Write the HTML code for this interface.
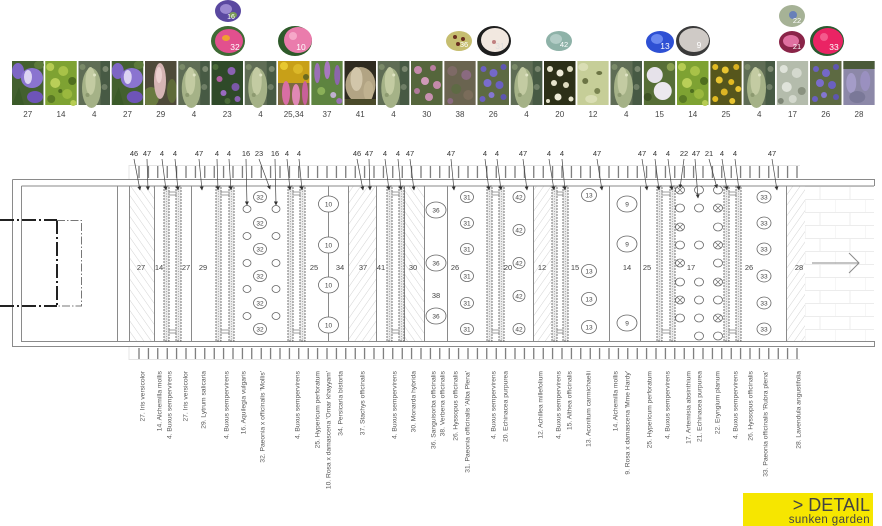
<!DOCTYPE html>
<html><head><meta charset="utf-8"><style>
html,body{margin:0;padding:0;background:#fff;width:882px;height:526px;overflow:hidden}
svg{display:block}
</style></head><body>
<svg width="882" height="526" viewBox="0 0 882 526" xmlns="http://www.w3.org/2000/svg" font-family="'Liberation Sans', Arial, sans-serif">
<defs>
<clipPath id="pc"><rect x="0" y="0" width="31.5" height="44"/></clipPath>
<pattern id="tk" patternUnits="userSpaceOnUse" x="134.3" y="0" width="9.4" height="600"><line x1="4.7" y1="0" x2="4.7" y2="600" stroke="#555" stroke-width="1"/></pattern>
<pattern id="ha" patternUnits="userSpaceOnUse" width="6" height="6" patternTransform="rotate(35)"><line x1="0" y1="0" x2="0" y2="6" stroke="#c8c8c8" stroke-width="0.8"/></pattern>
<pattern id="hb" patternUnits="userSpaceOnUse" width="6" height="6" patternTransform="rotate(-35)"><line x1="0" y1="0" x2="0" y2="6" stroke="#c8c8c8" stroke-width="0.8"/></pattern>
<pattern id="br" patternUnits="userSpaceOnUse" x="805" y="186" width="30" height="26"><path d="M0 0.5 H30 M0 13.5 H30 M15 0 V13 M0 13 V26" stroke="#ececec" stroke-width="1" fill="none"/></pattern>
<marker id="ar" markerWidth="4" markerHeight="4" refX="3.5" refY="2" orient="auto" markerUnits="userSpaceOnUse"><path d="M0,0 L4,2 L0,4 z" fill="#333"/></marker>
<g id="bx">
<rect width="31.5" height="44" fill="#5f6d55"/>
<rect x="22" width="9.5" height="44" fill="#475a44"/>
<circle cx="27" cy="8" r="3" fill="#7b8870"/><circle cx="26" cy="26" r="3" fill="#6f7e66"/><circle cx="4" cy="6" r="3" fill="#7a8a68"/>
<ellipse cx="13" cy="27" rx="9.5" ry="20" fill="#a5b287"/>
<ellipse cx="12" cy="20" rx="5" ry="14" fill="#c3cba2"/>
<circle cx="9" cy="34" r="2" fill="#8d9a70"/><circle cx="16" cy="14" r="1.5" fill="#dfe4c4"/>
</g>
<g id="iris">
<rect width="31.5" height="44" fill="#43602f"/>
<ellipse cx="6" cy="10" rx="6" ry="8" fill="#7d66c4"/>
<ellipse cx="20" cy="17" rx="11" ry="10" fill="#8a74d0"/>
<ellipse cx="16" cy="16" rx="4" ry="7" fill="#dcd4f2"/>
<ellipse cx="23" cy="36" rx="8" ry="6" fill="#6e54b8"/>
<ellipse cx="27" cy="4" rx="5" ry="4" fill="#5c7a3a"/>
<path d="M0 44 L7 26 L12 44z" fill="#3a5a28"/>
</g>
<g id="alc">
<rect width="31.5" height="44" fill="#7ea232"/>
<circle cx="5" cy="6" r="4" fill="#b6cc52"/><circle cx="18" cy="10" r="5" fill="#a8c248"/><circle cx="27" cy="20" r="4" fill="#4f6e1e"/>
<circle cx="10" cy="22" r="5" fill="#b9cf58"/><circle cx="22" cy="33" r="5" fill="#9ab83e"/><circle cx="6" cy="38" r="4" fill="#5a7a24"/>
<circle cx="15" cy="30" r="2" fill="#4f6e1e"/><circle cx="28" cy="42" r="3" fill="#b6cc52"/>
</g>
<g id="hys">
<rect width="31.5" height="44" fill="#5d6a42"/>
<circle cx="6" cy="8" r="3" fill="#6a60c0"/><circle cx="16" cy="12" r="4" fill="#7468c8"/><circle cx="26" cy="6" r="3" fill="#5e56b0"/>
<circle cx="10" cy="22" r="4" fill="#7a6ccc"/><circle cx="22" cy="24" r="4" fill="#6a60c0"/><circle cx="14" cy="34" r="3" fill="#8476d2"/>
<circle cx="26" cy="36" r="3" fill="#5e56b0"/><circle cx="5" cy="38" r="3" fill="#6a60c0"/>
</g>
</defs>

<!-- ===== PHOTOS ===== -->
<g>
<use href="#iris" x="12" y="61"/>
<use href="#alc" x="45.25" y="61"/>
<use href="#bx" x="78.5" y="61"/>
<use href="#iris" x="111.75" y="61"/>
<g transform="translate(145,61)" clip-path="url(#pc)"><rect width="31.5" height="44" fill="#4e4a3a"/><ellipse cx="6" cy="36" rx="8" ry="10" fill="#6a7a40"/><ellipse cx="15" cy="20" rx="6" ry="18" fill="#d6b4b4"/><ellipse cx="14" cy="14" rx="3" ry="8" fill="#ecd0d0"/><ellipse cx="27" cy="30" rx="5" ry="12" fill="#5e6a38"/></g>
<use href="#bx" x="178.25" y="61"/>
<g transform="translate(211.5,61)" clip-path="url(#pc)"><rect width="31.5" height="44" fill="#2f4a29"/><circle cx="20" cy="10" r="4" fill="#8a62b2"/><circle cx="8" cy="18" r="3" fill="#b060a0"/><circle cx="24" cy="26" r="4" fill="#7a58a8"/><circle cx="12" cy="32" r="3" fill="#9a6ac0"/><circle cx="26" cy="38" r="3" fill="#8a62b2"/><circle cx="4" cy="6" r="3" fill="#4a6a38"/><circle cx="16" cy="40" r="3" fill="#4a6a38"/></g>
<use href="#bx" x="244.75" y="61"/>
<g transform="translate(278,61)" clip-path="url(#pc)"><rect width="31.5" height="44" fill="#c8a018"/><circle cx="6" cy="5" r="4" fill="#e8c830"/><circle cx="20" cy="8" r="5" fill="#dcb828"/><circle cx="28" cy="16" r="3" fill="#6a6a20"/><rect x="0" y="22" width="31.5" height="22" fill="#7a6a40"/><ellipse cx="8" cy="32" rx="4" ry="12" fill="#d86ea4"/><ellipse cx="18" cy="34" rx="4" ry="11" fill="#e088b4"/><ellipse cx="27" cy="32" rx="3" ry="12" fill="#c8609a"/></g>
<g transform="translate(311.25,61)" clip-path="url(#pc)"><rect width="31.5" height="44" fill="#5e8440"/><ellipse cx="6" cy="12" rx="3" ry="10" fill="#9a70b6"/><ellipse cx="16" cy="9" rx="3" ry="9" fill="#a878c0"/><ellipse cx="26" cy="14" rx="3" ry="10" fill="#8c66ac"/><circle cx="10" cy="30" r="4" fill="#8ab058"/><circle cx="22" cy="34" r="3" fill="#c0b0d0"/><circle cx="28" cy="40" r="3" fill="#9a70b6"/></g>
<g transform="translate(344.5,61)" clip-path="url(#pc)"><rect width="31.5" height="44" fill="#2e2b20"/><ellipse cx="16" cy="24" rx="15" ry="18" fill="#b2a484"/><ellipse cx="12" cy="18" rx="6" ry="12" fill="#d2c6aa"/><ellipse cx="24" cy="30" rx="5" ry="10" fill="#c0b290"/><rect x="0" y="38" width="31.5" height="6" fill="#4a4a2a"/></g>
<use href="#bx" x="377.75" y="61"/>
<g transform="translate(411,61)" clip-path="url(#pc)"><rect width="31.5" height="44" fill="#55663c"/><circle cx="7" cy="9" r="4" fill="#c48aaa"/><circle cx="22" cy="7" r="3" fill="#b87ea0"/><circle cx="14" cy="20" r="4" fill="#d09ab8"/><circle cx="26" cy="24" r="4" fill="#c48aaa"/><circle cx="6" cy="30" r="3" fill="#b07a9a"/><circle cx="18" cy="36" r="4" fill="#c890b0"/></g>
<g transform="translate(444.25,61)" clip-path="url(#pc)"><rect width="31.5" height="44" fill="#6a6450"/><circle cx="8" cy="10" r="5" fill="#7e6a66"/><circle cx="22" cy="14" r="5" fill="#8a6a80"/><circle cx="12" cy="28" r="5" fill="#5e6a44"/><circle cx="24" cy="34" r="5" fill="#7a6c5a"/><circle cx="6" cy="40" r="3" fill="#8a6a80"/></g>
<use href="#hys" x="477.5" y="61"/>
<use href="#bx" x="510.75" y="61"/>
<g transform="translate(544,61)" clip-path="url(#pc)"><rect width="31.5" height="44" fill="#2c3018"/><circle cx="6" cy="8" r="3" fill="#e6e4cc"/><circle cx="16" cy="12" r="3.5" fill="#eeecd8"/><circle cx="26" cy="8" r="3" fill="#dedcc0"/><circle cx="10" cy="22" r="3" fill="#e6e4cc"/><circle cx="22" cy="24" r="3" fill="#dedcc0"/><circle cx="14" cy="36" r="3.5" fill="#eeecd8"/><circle cx="27" cy="38" r="2.5" fill="#e6e4cc"/><circle cx="4" cy="40" r="2" fill="#e6e4cc"/></g>
<g transform="translate(577.25,61)" clip-path="url(#pc)"><rect width="31.5" height="44" fill="#c6ce98"/><ellipse cx="8" cy="20" rx="3" ry="3" fill="#6c7444"/><ellipse cx="22" cy="12" rx="3" ry="2" fill="#6c7444"/><ellipse cx="20" cy="30" rx="3" ry="3" fill="#7a8450"/><ellipse cx="6" cy="6" rx="5" ry="4" fill="#dadeb4"/><ellipse cx="14" cy="38" rx="6" ry="4" fill="#dadeb4"/></g>
<use href="#bx" x="610.5" y="61"/>
<g transform="translate(643.75,61)" clip-path="url(#pc)"><rect width="31.5" height="44" fill="#566e36"/><circle cx="11" cy="14" r="8" fill="#e6e2ea"/><circle cx="19" cy="30" r="9" fill="#ece8ee"/><circle cx="27" cy="6" r="4" fill="#8aa050"/><circle cx="4" cy="36" r="4" fill="#3e5424"/></g>
<use href="#alc" x="677" y="61"/>
<g transform="translate(710.25,61)" clip-path="url(#pc)"><rect width="31.5" height="44" fill="#56561c"/><circle cx="5" cy="6" r="3" fill="#e2ba22"/><circle cx="15" cy="9" r="3.5" fill="#e8c430"/><circle cx="26" cy="6" r="3" fill="#d8b020"/><circle cx="9" cy="19" r="3.5" fill="#e8c430"/><circle cx="21" cy="21" r="3" fill="#e2ba22"/><circle cx="28" cy="28" r="3" fill="#e8c430"/><circle cx="14" cy="31" r="3.5" fill="#dcb424"/><circle cx="5" cy="38" r="3" fill="#e2ba22"/><circle cx="22" cy="40" r="3" fill="#e8c430"/></g>
<use href="#bx" x="743.5" y="61"/>
<g transform="translate(776.75,61)" clip-path="url(#pc)"><rect width="31.5" height="44" fill="#b4bcac"/><circle cx="7" cy="8" r="4" fill="#dfe3da"/><circle cx="20" cy="12" r="5" fill="#d4d9ce"/><circle cx="10" cy="26" r="5" fill="#dfe3da"/><circle cx="25" cy="30" r="4" fill="#8a9280"/><circle cx="16" cy="38" r="4" fill="#d4d9ce"/><circle cx="4" cy="40" r="3" fill="#7e8676"/></g>
<use href="#hys" x="810" y="61"/>
<g transform="translate(843.25,61)" clip-path="url(#pc)"><rect width="31.5" height="44" fill="#8c88a8"/><rect width="31.5" height="8" fill="#4a5a38"/><ellipse cx="8" cy="22" rx="5" ry="10" fill="#a49cc8"/><ellipse cx="22" cy="20" rx="5" ry="10" fill="#9a90c0"/><ellipse cx="14" cy="36" rx="8" ry="6" fill="#7a7898"/></g>
</g>

<!-- photo numbers -->
<g font-size="8" fill="#444" text-anchor="middle">
<text x="27.75" y="117">27</text><text x="61" y="117">14</text><text x="94.25" y="117">4</text><text x="127.5" y="117">27</text><text x="160.75" y="117">29</text><text x="194" y="117">4</text><text x="227.25" y="117">23</text><text x="260.5" y="117">4</text><text x="293.75" y="117">25,34</text><text x="327" y="117">37</text><text x="360.25" y="117">41</text><text x="393.5" y="117">4</text><text x="426.75" y="117">30</text><text x="460" y="117">38</text><text x="493.25" y="117">26</text><text x="526.5" y="117">4</text><text x="559.75" y="117">20</text><text x="593" y="117">12</text><text x="626.25" y="117">4</text><text x="659.5" y="117">15</text><text x="692.75" y="117">14</text><text x="726" y="117">25</text><text x="759.25" y="117">4</text><text x="792.5" y="117">17</text><text x="825.75" y="117">26</text><text x="859" y="117">28</text>
</g>

<!-- circle photos -->
<g>
<ellipse cx="228" cy="11" rx="13" ry="11" fill="#5a48a0"/><ellipse cx="226" cy="9" rx="6" ry="5" fill="#9a88d0"/><ellipse cx="233" cy="15" rx="4" ry="3" fill="#7a9a58"/>
<ellipse cx="228" cy="41" rx="17" ry="15" fill="#3f6a34"/><ellipse cx="229" cy="41" rx="14" ry="12" fill="#e2508e"/><ellipse cx="226" cy="38" rx="4" ry="3" fill="#f0a030"/>
<ellipse cx="295" cy="41" rx="17" ry="15" fill="#2e5a2a"/><ellipse cx="298" cy="40" rx="14" ry="13" fill="#ea7cac"/><circle cx="293" cy="36" r="4" fill="#f6a8c8"/>
<ellipse cx="459" cy="41" rx="13" ry="10" fill="#c6be70"/><circle cx="455" cy="37" r="2" fill="#6a3020"/><circle cx="463" cy="39" r="2" fill="#6a3020"/><circle cx="458" cy="44" r="2" fill="#6a3020"/>
<ellipse cx="494" cy="41" rx="17" ry="15" fill="#1e1e1e"/><ellipse cx="495" cy="40" rx="14" ry="12" fill="#f2e8e0"/><circle cx="494" cy="42" r="2" fill="#c08080"/>
<ellipse cx="559" cy="41" rx="13" ry="10" fill="#8eb2a8"/><ellipse cx="556" cy="39" rx="6" ry="5" fill="#b2ccc6"/>
<ellipse cx="660" cy="42" rx="14" ry="11" fill="#2e50d4"/><ellipse cx="657" cy="39" rx="6" ry="5" fill="#6a88f0"/>
<ellipse cx="693" cy="41" rx="17" ry="15" fill="#3a3a3a"/><ellipse cx="694" cy="40" rx="15" ry="12" fill="#cfcac6"/>
<ellipse cx="792" cy="16" rx="13" ry="11" fill="#a6b296"/><circle cx="793" cy="15" r="4" fill="#6880b8"/>
<ellipse cx="792" cy="42" rx="13" ry="11" fill="#8a2448"/><ellipse cx="791" cy="41" rx="8" ry="6" fill="#e070a0"/>
<ellipse cx="827" cy="41" rx="17" ry="15" fill="#2a5a30"/><ellipse cx="828" cy="41" rx="15" ry="13" fill="#ea2464"/><circle cx="824" cy="37" r="4" fill="#f45a8c"/>
</g>
<g font-size="8.5" fill="#fff" text-anchor="middle">
<text x="231" y="19" font-size="7">16</text><text x="235" y="50">32</text><text x="301" y="50">10</text><text x="464" y="47" font-size="7.5">36</text><text x="500" y="49" fill="#ddd">31</text><text x="564" y="47" font-size="7.5">42</text><text x="665" y="49">13</text><text x="699" y="48">9</text><text x="797" y="23" font-size="7.5">22</text><text x="797" y="49" font-size="7.5">21</text><text x="834" y="50">33</text>
</g>

<!-- ===== PLAN ===== -->
<!-- ticks -->
<rect x="134.3" y="165" width="667.4" height="13" fill="url(#tk)"/>
<rect x="134.3" y="348" width="667.4" height="12" fill="url(#tk)"/>
<path d="M129 165.5 H800 M129 165 V179 M129 359.5 H800 M129 347 V360" stroke="#e4e4e4" stroke-width="1" fill="none"/>

<!-- brick -->
<rect x="805" y="186" width="69" height="155" fill="url(#br)"/>

<!-- hatched zones -->
<rect x="129" y="186" width="25" height="155" fill="url(#hb)"/>
<rect x="348" y="186" width="28" height="155" fill="url(#ha)"/>
<rect x="404" y="186" width="20" height="155" fill="url(#hb)"/>
<rect x="533" y="186" width="18" height="155" fill="url(#ha)"/>
<rect x="786" y="186" width="19" height="155" fill="url(#ha)"/>

<!-- frame -->
<g stroke="#8a8a8a" stroke-width="1" fill="none">
<path d="M12.5 179.5 H874.5 V186 M12.5 179.5 V346.5 H874.5 V341"/>
<path d="M21.5 186 H874 M21.5 186 V341.5 H874"/>
<path d="M117.5 186 V341 M129.5 186 V341 M154.5 186 V341 M191.5 186 V341 M328.5 186 V341 M348.5 186 V341 M376.5 186 V341 M404.5 186 V341 M424.5 186 V341 M447.5 186 V341 M533.5 186 V341 M609.5 186 V341 M640.5 186 V341 M786.5 186 V341"/>
</g>

<!-- hedges -->
<g stroke="#666" stroke-width="0.9" fill="#ececec">
<rect x="164" y="186" width="5" height="155" stroke-dasharray="2 1"/><rect x="176" y="186" width="5" height="155" stroke-dasharray="2 1"/>
<rect x="216" y="186" width="5" height="155" stroke-dasharray="2 1"/><rect x="229" y="186" width="5" height="155" stroke-dasharray="2 1"/>
<rect x="288" y="186" width="5" height="155" stroke-dasharray="2 1"/><rect x="300" y="186" width="5" height="155" stroke-dasharray="2 1"/>
<rect x="387" y="186" width="5" height="155" stroke-dasharray="2 1"/><rect x="399" y="186" width="5" height="155" stroke-dasharray="2 1"/>
<rect x="487" y="186" width="5" height="155" stroke-dasharray="2 1"/><rect x="499" y="186" width="5" height="155" stroke-dasharray="2 1"/>
<rect x="552" y="186" width="5" height="155" stroke-dasharray="2 1"/><rect x="563" y="186" width="5" height="155" stroke-dasharray="2 1"/>
<rect x="657" y="186" width="5" height="155" stroke-dasharray="2 1"/><rect x="670" y="186" width="5" height="155" stroke-dasharray="2 1"/>
<rect x="724" y="186" width="5" height="155" stroke-dasharray="2 1"/><rect x="736" y="186" width="5" height="155" stroke-dasharray="2 1"/>
</g>
<g stroke="#999" stroke-width="0.8" stroke-dasharray="1 1.5" fill="none">
<path d="M166.5 186 V341 M178.5 186 V341 M218.5 186 V341 M231.5 186 V341 M290.5 186 V341 M302.5 186 V341 M389.5 186 V341 M401.5 186 V341 M489.5 186 V341 M501.5 186 V341 M554.5 186 V341 M565.5 186 V341 M659.5 186 V341 M672.5 186 V341 M726.5 186 V341 M738.5 186 V341"/>
</g>
<g stroke="#888" stroke-width="0.8" fill="#fff">
<rect x="169" y="192" width="7" height="3"/><rect x="169" y="330" width="7" height="3"/>
<rect x="221" y="192" width="8" height="3"/><rect x="221" y="330" width="8" height="3"/>
<rect x="293" y="192" width="7" height="3"/><rect x="293" y="330" width="7" height="3"/>
<rect x="392" y="192" width="7" height="3"/><rect x="392" y="330" width="7" height="3"/>
<rect x="492" y="192" width="7" height="3"/><rect x="492" y="330" width="7" height="3"/>
<rect x="557" y="192" width="6" height="3"/><rect x="557" y="330" width="6" height="3"/>
<rect x="662" y="192" width="8" height="3"/><rect x="662" y="330" width="8" height="3"/>
<rect x="729" y="192" width="7" height="3"/><rect x="729" y="330" width="7" height="3"/>
</g>

<!-- entrance dash-dot -->
<g fill="none">
<path d="M0 220 H57 M0 306 H57 M57 220 V306" stroke="#222" stroke-width="2" stroke-dasharray="14 3 2 3"/>
<path d="M57 220.5 H81.5 V306 H57" stroke="#777" stroke-width="1" stroke-dasharray="8 2 1.5 2"/>
</g>

<!-- arrow -->
<path d="M812 263 H859 M849 253 L859 263 L849 273" stroke="#8a8a8a" stroke-width="1" fill="none"/>

<!-- plan circles -->
<g stroke="#666" stroke-width="0.8" fill="#fff">
<ellipse cx="260" cy="197" rx="6.5" ry="5.5"/><ellipse cx="260" cy="223" rx="6.5" ry="5.5"/><ellipse cx="260" cy="249" rx="6.5" ry="5.5"/><ellipse cx="260" cy="276" rx="6.5" ry="5.5"/><ellipse cx="260" cy="303" rx="6.5" ry="5.5"/><ellipse cx="260" cy="329" rx="6.5" ry="5.5"/>
<ellipse cx="247" cy="209" rx="4" ry="3.5"/><ellipse cx="276" cy="209" rx="4" ry="3.5"/><ellipse cx="247" cy="236" rx="4" ry="3.5"/><ellipse cx="276" cy="236" rx="4" ry="3.5"/><ellipse cx="247" cy="263" rx="4" ry="3.5"/><ellipse cx="276" cy="263" rx="4" ry="3.5"/><ellipse cx="247" cy="289" rx="4" ry="3.5"/><ellipse cx="276" cy="289" rx="4" ry="3.5"/><ellipse cx="247" cy="316" rx="4" ry="3.5"/><ellipse cx="276" cy="316" rx="4" ry="3.5"/>
<ellipse cx="328.5" cy="204" rx="10" ry="8"/><ellipse cx="328.5" cy="245" rx="10" ry="8"/><ellipse cx="328.5" cy="285" rx="10" ry="8"/><ellipse cx="328.5" cy="325" rx="10" ry="8"/>
<ellipse cx="436" cy="210" rx="10" ry="8"/><ellipse cx="436" cy="263" rx="10" ry="8"/><ellipse cx="436" cy="316" rx="10" ry="8"/>
<ellipse cx="467" cy="197" rx="6.5" ry="5.5"/><ellipse cx="467" cy="223" rx="6.5" ry="5.5"/><ellipse cx="467" cy="249" rx="6.5" ry="5.5"/><ellipse cx="467" cy="276" rx="6.5" ry="5.5"/><ellipse cx="467" cy="303" rx="6.5" ry="5.5"/><ellipse cx="467" cy="329" rx="6.5" ry="5.5"/>
<ellipse cx="519" cy="197" rx="6" ry="5.5"/><ellipse cx="519" cy="230" rx="6" ry="5.5"/><ellipse cx="519" cy="263" rx="6" ry="5.5"/><ellipse cx="519" cy="296" rx="6" ry="5.5"/><ellipse cx="519" cy="329" rx="6" ry="5.5"/>
<ellipse cx="589" cy="195" rx="7.5" ry="6.5"/><ellipse cx="589" cy="271" rx="7.5" ry="6.5"/><ellipse cx="589" cy="299" rx="7.5" ry="6.5"/><ellipse cx="589" cy="327" rx="7.5" ry="6.5"/>
<ellipse cx="627" cy="204" rx="10" ry="8"/><ellipse cx="627" cy="244" rx="10" ry="8"/><ellipse cx="627" cy="323" rx="10" ry="8"/>
<ellipse cx="764" cy="197" rx="7" ry="6"/><ellipse cx="764" cy="223" rx="7" ry="6"/><ellipse cx="764" cy="249" rx="7" ry="6"/><ellipse cx="764" cy="276" rx="7" ry="6"/><ellipse cx="764" cy="303" rx="7" ry="6"/><ellipse cx="764" cy="329" rx="7" ry="6"/>
<!-- zone 17 -->
<ellipse cx="680" cy="190" rx="4.5" ry="4"/><ellipse cx="680" cy="208" rx="4.5" ry="4"/><ellipse cx="680" cy="227" rx="4.5" ry="4"/><ellipse cx="680" cy="245" rx="4.5" ry="4"/><ellipse cx="680" cy="263" rx="4.5" ry="4"/><ellipse cx="680" cy="282" rx="4.5" ry="4"/><ellipse cx="680" cy="300" rx="4.5" ry="4"/><ellipse cx="680" cy="318" rx="4.5" ry="4"/>
<ellipse cx="699" cy="190" rx="4.5" ry="4"/><ellipse cx="699" cy="208" rx="4.5" ry="4"/><ellipse cx="699" cy="245" rx="4.5" ry="4"/><ellipse cx="699" cy="282" rx="4.5" ry="4"/><ellipse cx="699" cy="300" rx="4.5" ry="4"/><ellipse cx="699" cy="318" rx="4.5" ry="4"/><ellipse cx="699" cy="336" rx="4.5" ry="4"/>
<ellipse cx="718" cy="190" rx="4.5" ry="4"/><ellipse cx="718" cy="208" rx="4.5" ry="4"/><ellipse cx="718" cy="227" rx="4.5" ry="4"/><ellipse cx="718" cy="245" rx="4.5" ry="4"/><ellipse cx="718" cy="263" rx="4.5" ry="4"/><ellipse cx="718" cy="282" rx="4.5" ry="4"/><ellipse cx="718" cy="300" rx="4.5" ry="4"/><ellipse cx="718" cy="318" rx="4.5" ry="4"/><ellipse cx="718" cy="336" rx="4.5" ry="4"/>
</g>
<g stroke="#666" stroke-width="0.7" fill="none">
<path d="M677 187 L683 193 M683 187 L677 193 M677 224 L683 230 M683 224 L677 230 M677 260 L683 266 M683 260 L677 266 M677 297 L683 303 M683 297 L677 303"/>
<path d="M715 205 L721 211 M721 205 L715 211 M715 242 L721 248 M721 242 L715 248 M715 279 L721 285 M721 279 L715 285 M715 315 L721 321 M721 315 L715 321"/>
</g>

<!-- circle numbers -->
<g font-size="6.5" fill="#444" text-anchor="middle">
<text x="260" y="199.5">32</text><text x="260" y="225.5">32</text><text x="260" y="251.5">32</text><text x="260" y="278.5">32</text><text x="260" y="305.5">32</text><text x="260" y="331.5">32</text>
<text x="328.5" y="206.5">10</text><text x="328.5" y="247.5">10</text><text x="328.5" y="287.5">10</text><text x="328.5" y="327.5">10</text>
<text x="436" y="212.5">36</text><text x="436" y="265.5">36</text><text x="436" y="318.5">36</text>
<text x="467" y="199.5">31</text><text x="467" y="225.5">31</text><text x="467" y="251.5">31</text><text x="467" y="278.5">31</text><text x="467" y="305.5">31</text><text x="467" y="331.5">31</text>
<text x="519" y="199.5">42</text><text x="519" y="232.5">42</text><text x="519" y="265.5">42</text><text x="519" y="298.5">42</text><text x="519" y="331.5">42</text>
<text x="589" y="197.5">13</text><text x="589" y="273.5">13</text><text x="589" y="301.5">13</text><text x="589" y="329.5">13</text>
<text x="627" y="206.5">9</text><text x="627" y="246.5">9</text><text x="627" y="325.5">9</text>
<text x="764" y="199.5">33</text><text x="764" y="225.5">33</text><text x="764" y="251.5">33</text><text x="764" y="278.5">33</text><text x="764" y="305.5">33</text><text x="764" y="331.5">33</text>
</g>

<!-- zone labels -->
<g font-size="7.5" fill="#444" text-anchor="middle">
<text x="141" y="270">27</text><text x="159" y="270">14</text><text x="186" y="270">27</text><text x="203" y="270">29</text>
<text x="314" y="270">25</text><text x="340" y="270">34</text><text x="363" y="270">37</text><text x="381" y="270">41</text><text x="413" y="270">30</text>
<text x="436" y="298">38</text><text x="455" y="270">26</text><text x="508" y="270">20</text><text x="542" y="270">12</text><text x="575" y="270">15</text>
<text x="627" y="270">14</text><text x="647" y="270">25</text><text x="691" y="270">17</text><text x="749" y="270">26</text><text x="799" y="270">28</text>
</g>

<!-- top labels -->
<g stroke="#444" stroke-width="0.7" marker-end="url(#ar)">
<line x1="134" y1="159" x2="140" y2="190"/><line x1="147" y1="159" x2="148" y2="190"/><line x1="162" y1="159" x2="166" y2="190"/><line x1="175" y1="159" x2="178" y2="190"/><line x1="199" y1="159" x2="202" y2="190"/>
<line x1="217" y1="159" x2="218" y2="190"/><line x1="229" y1="159" x2="231" y2="190"/><line x1="246" y1="159" x2="247" y2="205"/><line x1="259" y1="159" x2="270" y2="189"/><line x1="275" y1="159" x2="276" y2="205"/>
<line x1="287" y1="159" x2="290" y2="190"/><line x1="299" y1="159" x2="302" y2="190"/><line x1="357" y1="159" x2="363" y2="190"/><line x1="369" y1="159" x2="370" y2="190"/>
<line x1="385" y1="159" x2="389" y2="190"/><line x1="398" y1="159" x2="401" y2="190"/><line x1="410" y1="159" x2="414" y2="190"/><line x1="451" y1="159" x2="454" y2="190"/>
<line x1="485" y1="159" x2="489" y2="190"/><line x1="497" y1="159" x2="501" y2="190"/><line x1="523" y1="159" x2="527" y2="190"/><line x1="549" y1="159" x2="554" y2="190"/><line x1="562" y1="159" x2="565" y2="190"/>
<line x1="597" y1="159" x2="602" y2="190"/><line x1="642" y1="159" x2="647" y2="190"/><line x1="655" y1="159" x2="659" y2="190"/><line x1="668" y1="159" x2="672" y2="190"/>
<line x1="684" y1="159" x2="680" y2="188"/><line x1="695" y1="159" x2="698" y2="198"/><line x1="709" y1="159" x2="717" y2="188"/><line x1="722" y1="159" x2="727" y2="190"/><line x1="735" y1="159" x2="739" y2="190"/><line x1="772" y1="159" x2="777" y2="190"/>
</g>
<g font-size="7.5" fill="#333" text-anchor="middle">
<text x="134" y="156">46</text><text x="147" y="156">47</text><text x="162" y="156">4</text><text x="175" y="156">4</text><text x="199" y="156">47</text>
<text x="217" y="156">4</text><text x="229" y="156">4</text><text x="246" y="156">16</text><text x="259" y="156">23</text><text x="275" y="156">16</text>
<text x="287" y="156">4</text><text x="299" y="156">4</text><text x="357" y="156">46</text><text x="369" y="156">47</text>
<text x="385" y="156">4</text><text x="398" y="156">4</text><text x="410" y="156">47</text><text x="451" y="156">47</text>
<text x="485" y="156">4</text><text x="497" y="156">4</text><text x="523" y="156">47</text><text x="549" y="156">4</text><text x="562" y="156">4</text>
<text x="597" y="156">47</text><text x="642" y="156">47</text><text x="655" y="156">4</text><text x="668" y="156">4</text>
<text x="684" y="156">22</text><text x="696" y="156">47</text><text x="709" y="156">21</text><text x="722" y="156">4</text><text x="735" y="156">4</text><text x="772" y="156">47</text>
</g>

<!-- bottom labels -->
<g font-size="6.7" fill="#555" text-anchor="end">
<text transform="translate(144.4,371) rotate(-90)">27. Iris versicolor</text>
<text transform="translate(161.4,371) rotate(-90)">14. Alchemilla mollis</text>
<text transform="translate(171.4,371) rotate(-90)">4. Buxus sempervirens</text>
<text transform="translate(187.4,371) rotate(-90)">27. Iris versicolor</text>
<text transform="translate(205.4,371) rotate(-90)">29. Lytrum salicaria</text>
<text transform="translate(228.4,371) rotate(-90)">4. Buxus sempervirens</text>
<text transform="translate(245.4,371) rotate(-90)">16. Aquilegia vulgaris</text>
<text transform="translate(264.4,371) rotate(-90)">32. Paeonia x officinalis 'Mollis'</text>
<text transform="translate(299.4,371) rotate(-90)">4. Buxus sempervirens</text>
<text transform="translate(319.4,371) rotate(-90)">25. Hypericum perforatum</text>
<text transform="translate(330.4,371) rotate(-90)">10. Rosa x damascena 'Omar khayyam'</text>
<text transform="translate(342.4,371) rotate(-90)">34. Persicaria bistorta</text>
<text transform="translate(364.4,371) rotate(-90)">37. Stachys officinalis</text>
<text transform="translate(396.4,371) rotate(-90)">4. Buxus sempervirens</text>
<text transform="translate(415.4,371) rotate(-90)">30. Monarda hybrida</text>
<text transform="translate(435.4,371) rotate(-90)">36. Sanguisorba officinalis</text>
<text transform="translate(444.4,371) rotate(-90)">38. Verbena officinalis</text>
<text transform="translate(457.4,371) rotate(-90)">26. Hyssopus officinalis</text>
<text transform="translate(469.4,371) rotate(-90)">31. Paeonia officinalis 'Alba Plena'</text>
<text transform="translate(495.4,371) rotate(-90)">4. Buxus sempervirens</text>
<text transform="translate(507.4,371) rotate(-90)">20. Echinacea purpurea</text>
<text transform="translate(542.4,371) rotate(-90)">12. Achillea millefolium</text>
<text transform="translate(560.4,371) rotate(-90)">4. Buxus sempervirens</text>
<text transform="translate(571.4,371) rotate(-90)">15. Althea officinalis</text>
<text transform="translate(590.4,371) rotate(-90)">13. Aconitum carmichaelii</text>
<text transform="translate(617.4,371) rotate(-90)">14. Alchemilla mollis</text>
<text transform="translate(629.4,371) rotate(-90)">9. Rosa x damascena 'Mme Hardy'</text>
<text transform="translate(651.4,371) rotate(-90)">25. Hypericum perforatum</text>
<text transform="translate(669.4,371) rotate(-90)">4. Buxus sempervirens</text>
<text transform="translate(690.4,371) rotate(-90)">17. Artemisia absinthium</text>
<text transform="translate(701.4,371) rotate(-90)">21. Echinacea purpurea</text>
<text transform="translate(719.4,371) rotate(-90)">22. Eryngium planum</text>
<text transform="translate(737.4,371) rotate(-90)">4. Buxus sempervirens</text>
<text transform="translate(752.4,371) rotate(-90)">26. Hyssopus officinalis</text>
<text transform="translate(767.4,371) rotate(-90)">33. Paeonia officinalis 'Rubra plena'</text>
<text transform="translate(800.4,371) rotate(-90)">28. Lavendula angustifolia</text>
</g>

<!-- detail box -->
<rect x="743" y="493" width="130" height="33" fill="#f6e600"/>
<text x="870" y="511" font-size="18" fill="#444" text-anchor="end">&gt; DETAIL</text>
<text x="870" y="523" font-size="11.5" fill="#444" text-anchor="end" letter-spacing="0.4">sunken garden</text>
</svg>
</body></html>
